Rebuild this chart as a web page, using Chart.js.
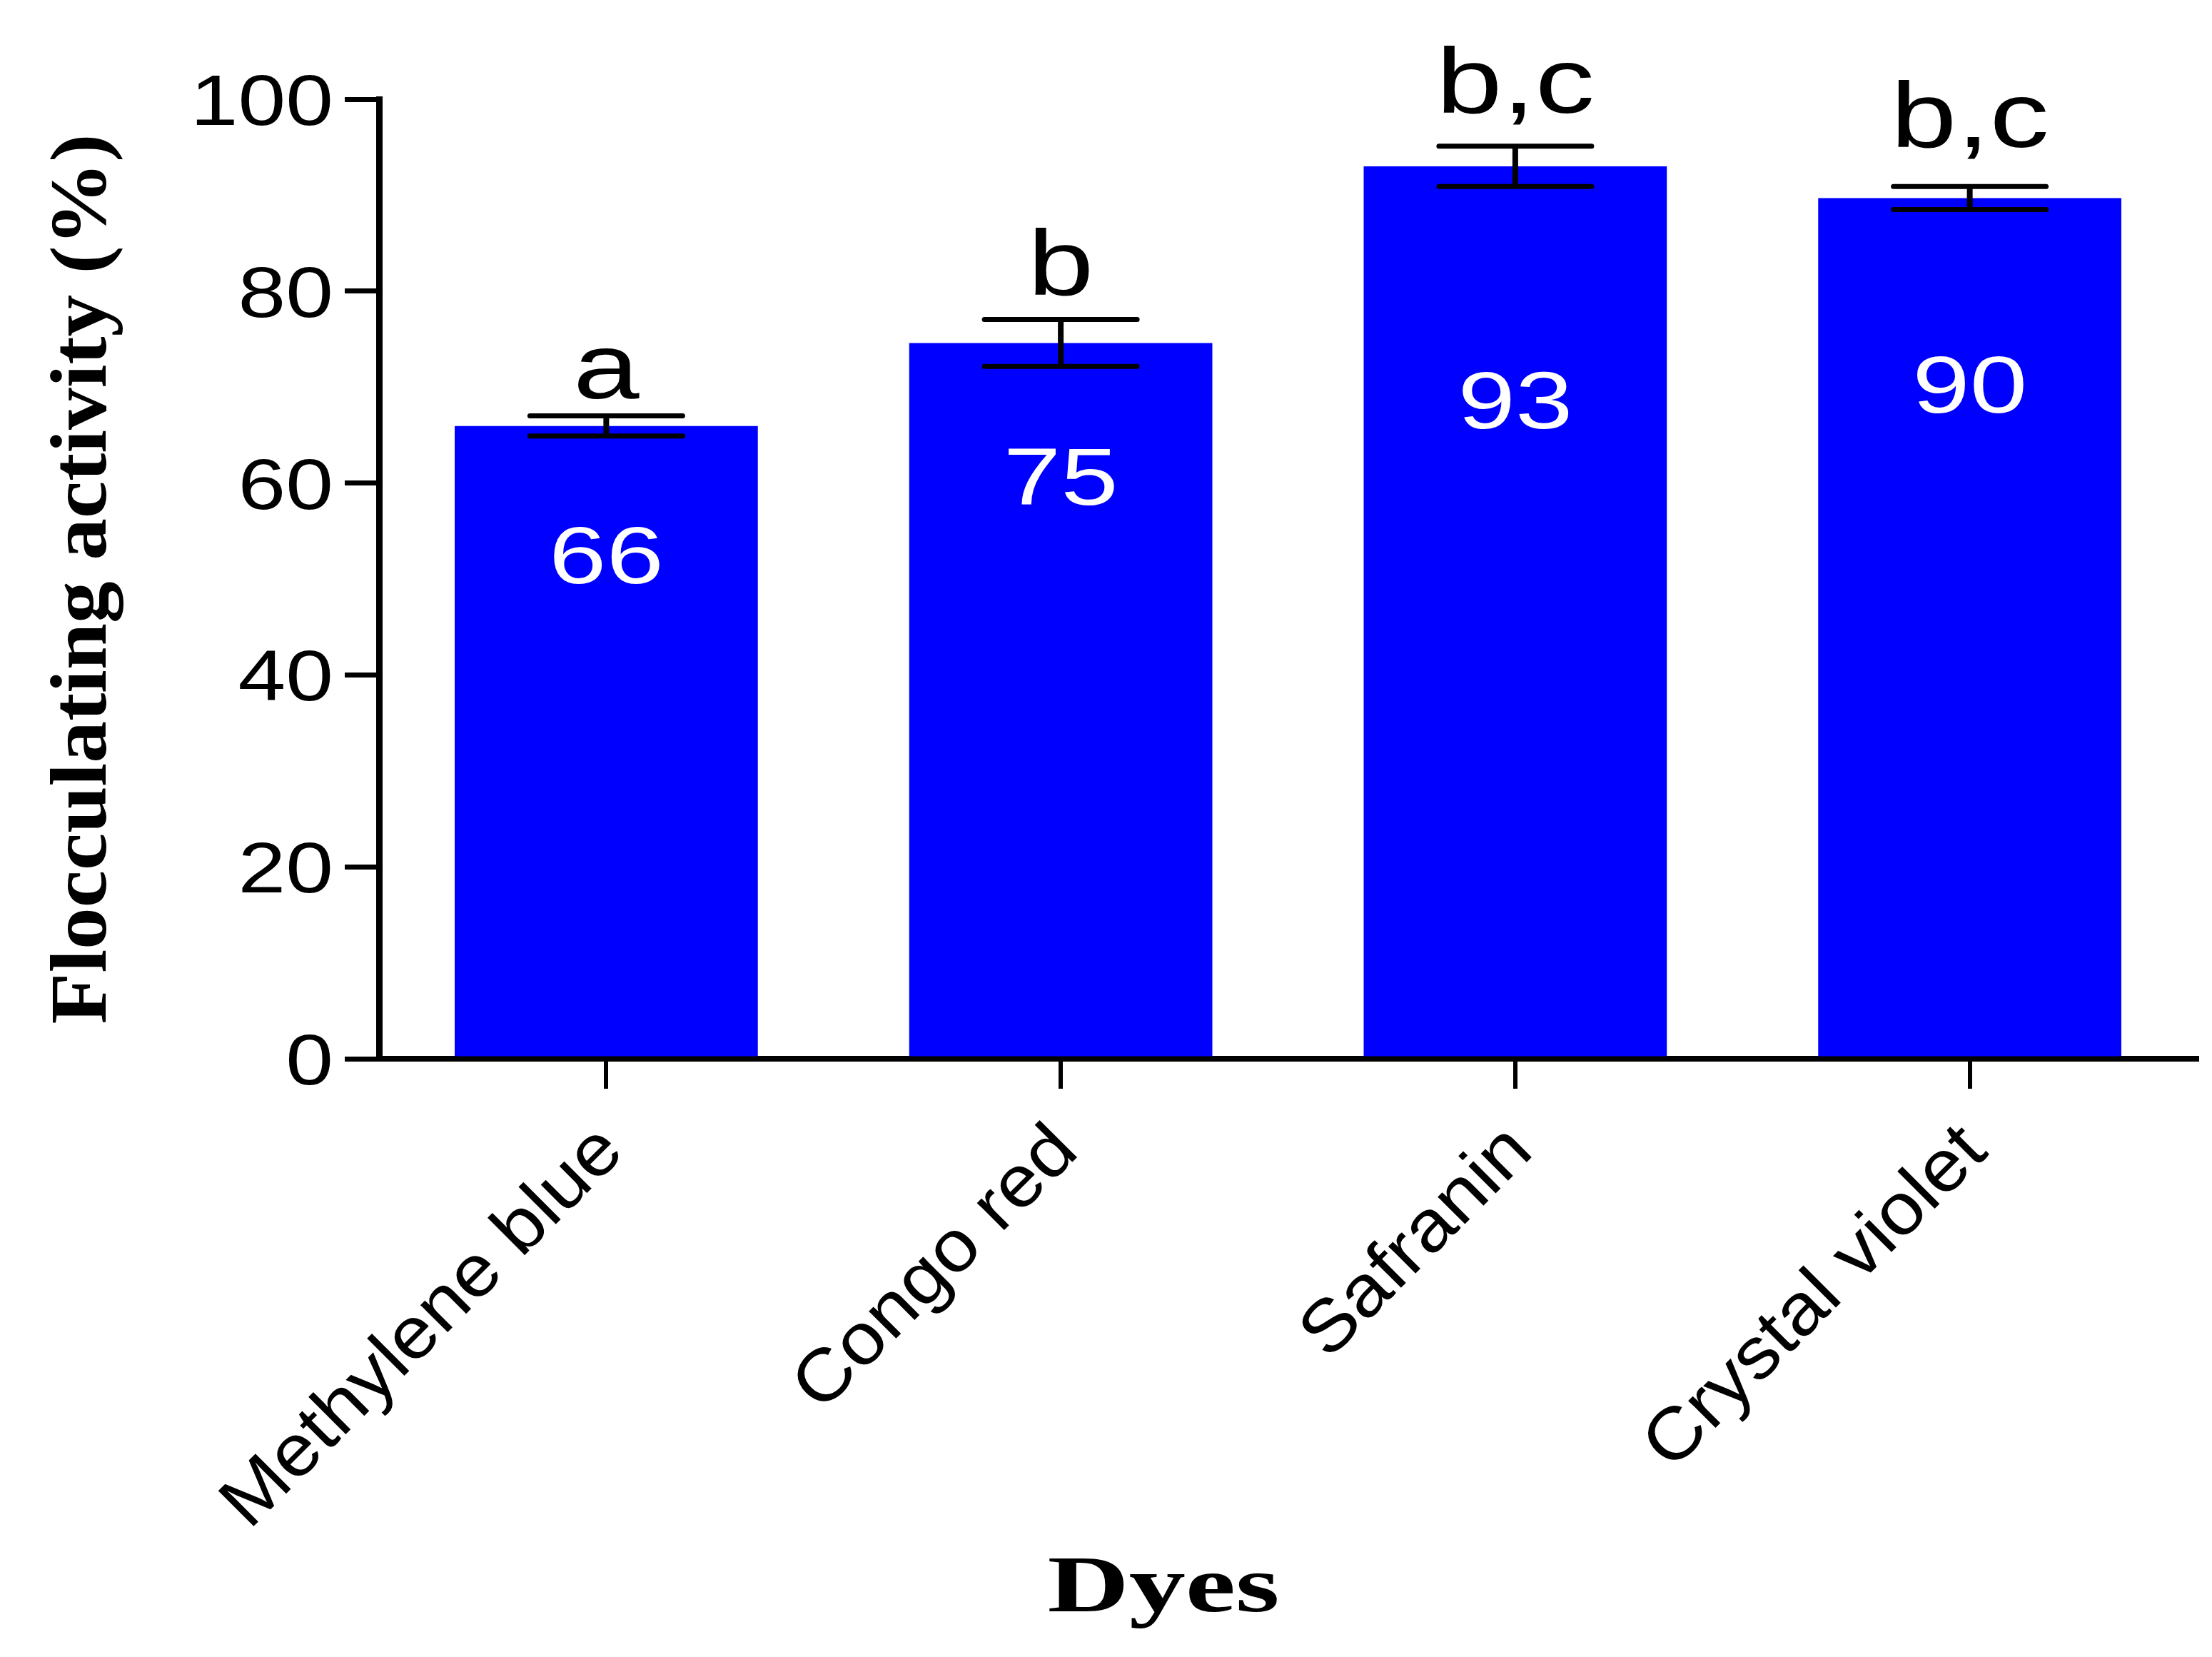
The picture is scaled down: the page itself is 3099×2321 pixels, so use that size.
<!DOCTYPE html>
<html lang="en">
<head>
    <meta charset="UTF-8">
    <title>Flocculating activity by dye</title>
    <script src="https://cdn.jsdelivr.net/npm/chart.js"></script>
    <style>
        body {
            margin: 0;
            padding: 0;
            background: #ffffff;
            overflow: hidden;
        }
        #chart {
            display: block;
            background: #ffffff;
        }
    </style>
</head>
<body>

<canvas id="chart" width="3099" height="2321"></canvas>

<script>
    // data
    const dyes = ["Methylene blue", "Congo red", "Safranin", "Crystal violet"];
    const activity = [65.95, 74.6, 93.0, 89.7];
    const activityErr = [1.05, 2.45, 2.1, 1.2];
    const valueLabels = ["66", "75", "93", "90"];
    const valueLabelY = [52.5, 60.7, 68.7, 70.3];      // centre of the white numbers, in axis units
    const groupLetters = ["a", "b", "b,c", "b,c"];
    const groupLetterY = [68.8, 79.6, 98.6, 95.05];    // baseline of the letters, in axis units
    const yTicks = [0, 20, 40, 60, 80, 100];

    const SANS = "'Liberation Sans', Arial, sans-serif";
    const SERIF = "'Liberation Serif', 'Times New Roman', serif";

    // the figure's text is drawn wider than normal, so draw it with a horizontal stretch
    function stretchText(ctx, text, x, y, opts) {
        ctx.save();
        ctx.translate(x, y);
        if (opts.angle) ctx.rotate(opts.angle);
        ctx.scale(opts.sx || 1, 1);
        ctx.font = opts.font;
        ctx.fillStyle = opts.color || "#000";
        ctx.textAlign = opts.align || "center";
        ctx.textBaseline = "alphabetic";
        ctx.fillText(text, 0, 0);
        ctx.restore();
    }

    const decorations = {
        id: "decorations",
        afterDatasetsDraw(chart) {
            const ctx = chart.ctx;
            const ys = chart.scales.y;
            const meta = chart.getDatasetMeta(0);

            // error bars
            ctx.save();
            ctx.strokeStyle = "#000";
            activity.forEach((v, i) => {
                const x = meta.data[i].x;
                const top = ys.getPixelForValue(v + activityErr[i]);
                const bot = ys.getPixelForValue(v - activityErr[i]);
                ctx.lineWidth = 8;
                ctx.lineCap = "butt";
                ctx.beginPath();
                ctx.moveTo(x, top);
                ctx.lineTo(x, bot);
                ctx.stroke();
                ctx.lineWidth = 7;
                ctx.lineCap = "round";
                ctx.beginPath();
                ctx.moveTo(x - 107, top);
                ctx.lineTo(x + 107, top);
                ctx.moveTo(x - 107, bot);
                ctx.lineTo(x + 107, bot);
                ctx.stroke();
            });
            ctx.restore();

            // numbers inside the bars and letters above them
            activity.forEach((v, i) => {
                const x = meta.data[i].x;
                stretchText(ctx, valueLabels[i], x, ys.getPixelForValue(valueLabelY[i]) + 40,
                    {font: "113px " + SANS, sx: 1.28, color: "#fff"});
                stretchText(ctx, groupLetters[i], x, ys.getPixelForValue(groupLetterY[i]),
                    {font: "130px " + SANS, sx: 1.28});
            });
        },
        afterDraw(chart) {
            const ctx = chart.ctx;
            const xs = chart.scales.x;
            const ys = chart.scales.y;

            // y tick labels
            yTicks.forEach(t => {
                stretchText(ctx, String(t), xs.left - 64, ys.getPixelForValue(t) + 36,
                    {font: "100px " + SANS, sx: 1.2, align: "right"});
            });

            // rotated category labels
            dyes.forEach((d, i) => {
                const x = xs.getPixelForValue(i);
                stretchText(ctx, d, x + 28, ys.bottom + 133,
                    {font: "102px " + SANS, sx: 1.08, align: "right", angle: -Math.PI / 4});
            });

            // axis titles
            stretchText(ctx, "Flocculating activity (%)", 148, (ys.top + ys.bottom) / 2,
                {font: "bold 113px " + SERIF, sx: 1.04, angle: -Math.PI / 2});
            stretchText(ctx, "Dyes", 1630, 2257,
                {font: "bold 113px " + SERIF, sx: 1.4});
        }
    };

    new Chart(document.getElementById("chart"), {
        type: "bar",
        data: {
            labels: dyes,
            datasets: [{
                data: activity,
                backgroundColor: "#0000ff",
                borderWidth: 0,
                barPercentage: 0.667,
                categoryPercentage: 1
            }]
        },
        options: {
            responsive: false,
            animation: false,
            devicePixelRatio: 1,
            layout: {
                padding: {left: 483, top: 139, right: 21, bottom: 796}
            },
            plugins: {
                legend: {display: false},
                tooltip: {enabled: false}
            },
            scales: {
                x: {
                    offset: true,
                    ticks: {display: false},
                    grid: {
                        offset: false,
                        drawOnChartArea: false,
                        tickLength: 42,
                        color: "#000",
                        lineWidth: 6
                    },
                    border: {color: "#000", width: 8}
                },
                y: {
                    min: 0,
                    max: 100,
                    ticks: {display: false, stepSize: 20},
                    grid: {
                        drawOnChartArea: false,
                        tickLength: 48,
                        color: "#000",
                        lineWidth: 7
                    },
                    border: {color: "#000", width: 9}
                }
            }
        },
        plugins: [decorations]
    });
</script>

</body>
</html>
